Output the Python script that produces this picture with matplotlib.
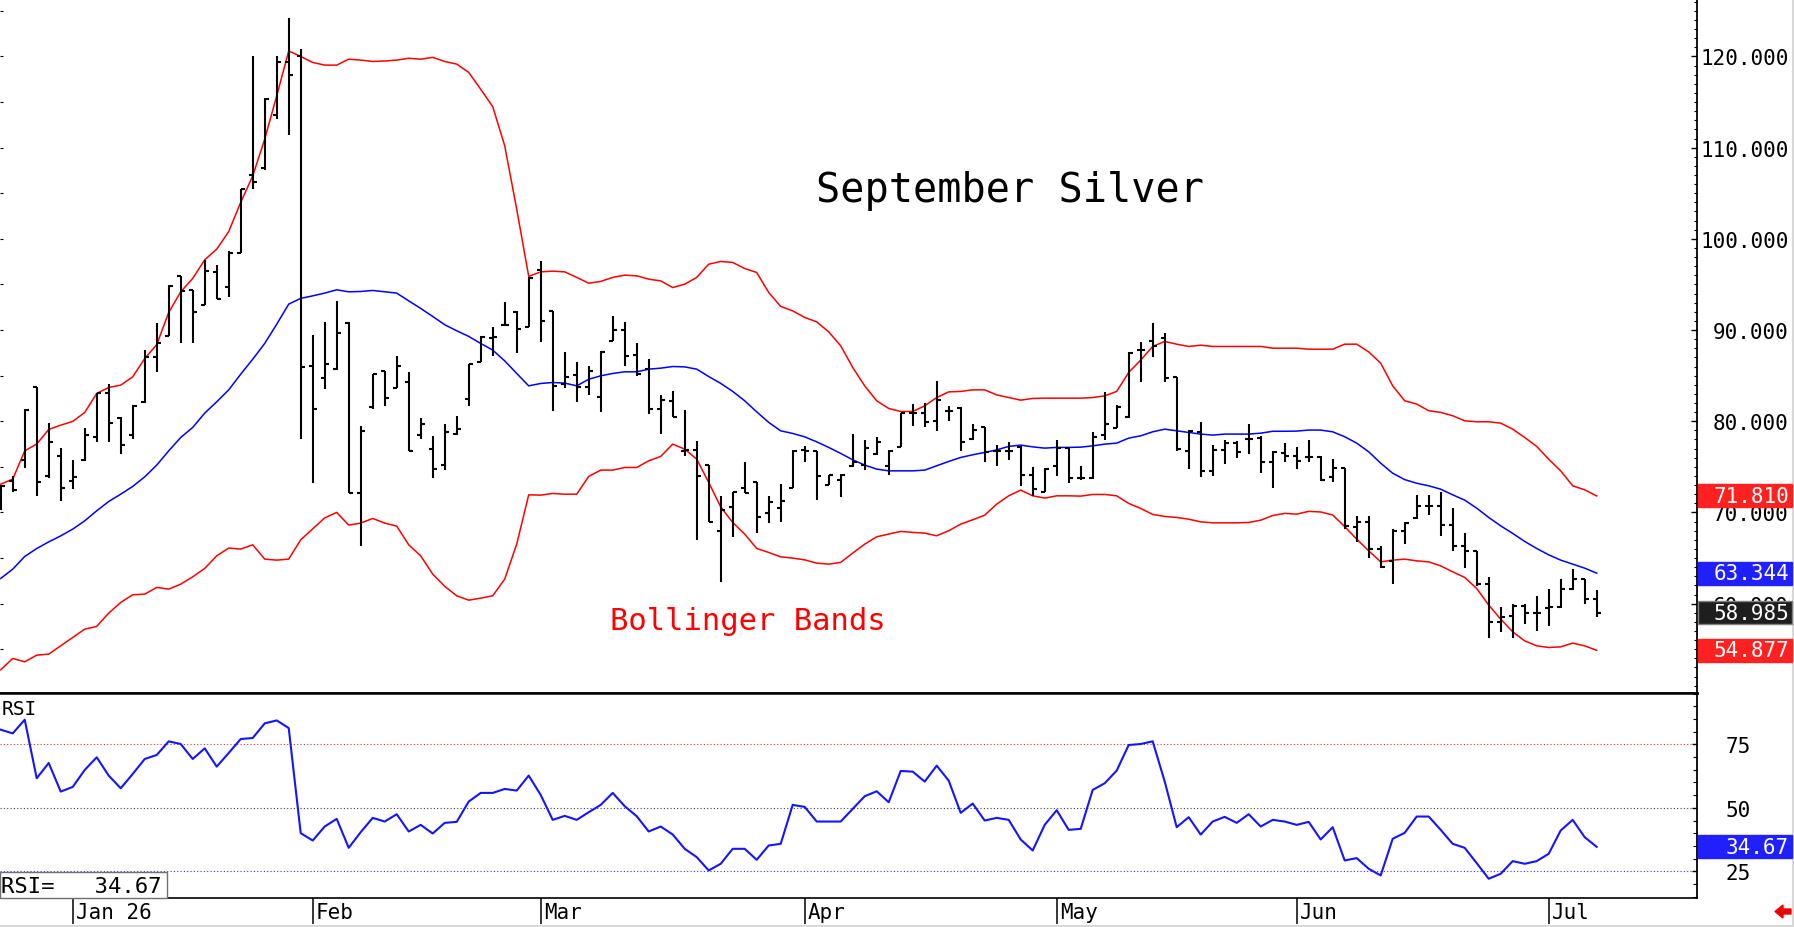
import matplotlib
matplotlib.use('Agg')
import matplotlib.pyplot as plt
import numpy as np
from matplotlib.patches import Rectangle, FancyArrow
from matplotlib.lines import Line2D
from matplotlib import transforms as mtrans

# ---------------- data (bar index 0 = late Dec, Jan 2 = index 6) ----------------
opens = [71.0, 73.5, 75.8, 83.8, 74.0, 76.2, 73.4, 75.7, 78.3, 83.1,
         80.4, 78.5, 82.1, 87.0, 89.4, 95.9, 94.4, 92.8, 96.4, 94.7,
         98.5, 107.0, 107.8, 113.6, 119.4, 120.1, 86.08, 84.76, 85.7, 90.76,
         72.08, 81.55, 85.46, 83.66, 84.32, 78.48, 77.0, 75.19, 78.59, 82.42,
         86.5, 89.1, 90.6, 92.0, 90.35, 96.6, 92.04, 84.07, 85.05, 83.7,
         82.67, 88.75, 89.99, 87.25, 85.71, 81.33, 82.24, 76.75, 76.83, 75.19,
         67.98, 70.61, 72.63, 73.29, 69.89, 70.47, 72.66, 76.9, 76.75, 72.99,
         73.54, 75.04, 75.19, 76.39, 75.11, 77.19, 80.86, 80.86, 80.04, 81.07,
         81.44, 78.03, 79.32, 76.75, 76.75, 77.19, 74.12, 72.26, 75.04, 77.02,
         73.73, 73.73, 78.51, 79.24, 80.42, 87.8, 88.8, 89.1, 84.8, 76.75,
         78.77, 74.56, 76.86, 77.6, 78.03, 78.11, 75.48, 76.47, 76.14, 76.03,
         76.03, 73.84, 74.82, 68.42, 68.9, 65.97, 64.69, 67.98, 69.34, 70.72,
         70.72, 68.61, 66.34, 65.72, 62.14, 58.0, 58.66, 59.76, 58.93, 59.47,
         59.65, 61.59, 62.69, 60.49]
highs = [73.0, 74.0, 81.3, 83.8, 79.8, 77.1, 75.7, 79.3, 83.1, 84.1,
         80.5, 81.8, 87.8, 90.8, 94.9, 95.9, 94.4, 97.7, 97.15, 98.7,
         105.5, 120.0, 115.4, 120.0, 124.2, 120.8, 89.44, 90.83, 93.13, 90.83,
         79.46, 85.16, 85.53, 87.17, 85.35, 80.34, 78.4, 79.65, 80.53, 86.33,
         89.3, 90.28, 93.03, 92.04, 95.77, 97.52, 92.1, 87.54, 86.51, 86.07,
         87.65, 91.49, 90.83, 88.53, 86.8, 82.89, 83.33, 81.25, 77.78, 75.22,
         71.75, 72.26, 75.48, 73.29, 71.82, 73.1, 76.83, 77.3, 76.75, 74.12,
         74.2, 78.59, 77.93, 78.22, 76.83, 80.86, 81.88, 81.96, 84.37, 81.69,
         81.51, 79.68, 79.38, 77.38, 77.67, 77.3, 74.93, 74.82, 77.96, 77.05,
         75.11, 78.84, 83.22, 81.77, 87.54, 88.64, 90.72, 89.73, 84.87, 79.06,
         79.87, 77.38, 77.96, 77.85, 79.68, 78.33, 76.75, 77.57, 77.13, 77.93,
         76.14, 75.84, 74.86, 69.56, 69.63, 66.34, 68.17, 68.9, 71.93, 71.93,
         72.19, 70.44, 67.7, 65.79, 62.87, 59.58, 59.95, 59.95, 60.86, 61.59,
         62.69, 63.78, 62.69, 61.51]
lows = [70.3, 72.2, 74.9, 71.8, 73.8, 71.3, 72.6, 75.6, 77.7, 77.7,
        76.4, 78.0, 82.0, 85.4, 89.4, 88.6, 88.6, 92.8, 93.4, 93.6,
        98.5, 105.5, 107.6, 113.1, 111.4, 78.1, 73.2, 83.5, 85.6, 72.08,
        66.34, 81.33, 81.69, 83.6, 76.69, 78.03, 73.73, 74.67, 78.48, 81.69,
        86.45, 87.17, 90.53, 87.47, 90.28, 88.64, 81.07, 83.63, 82.06, 82.89,
        80.96, 88.75, 86.01, 84.98, 80.77, 78.59, 80.42, 76.14, 66.96, 68.9,
        62.32, 67.26, 72.08, 67.7, 68.79, 68.9, 72.66, 75.48, 71.35, 72.99,
        71.64, 74.93, 74.6, 76.28, 74.12, 77.13, 79.5, 79.32, 78.95, 79.98,
        76.75, 77.93, 75.48, 75.04, 75.73, 72.92, 71.82, 72.19, 74.0, 73.18,
        73.54, 73.65, 77.96, 79.21, 80.31, 84.25, 87.0, 84.25, 76.75, 74.75,
        73.91, 74.0, 75.3, 75.92, 76.39, 74.28, 72.63, 75.48, 74.75, 75.48,
        73.4, 73.35, 68.17, 66.77, 64.96, 63.86, 62.14, 66.52, 69.26, 69.7,
        67.43, 65.79, 63.86, 61.88, 56.18, 56.84, 56.18, 57.75, 57.02, 57.57,
        59.47, 61.51, 59.95, 58.48]
closes = [72.9, 72.5, 81.2, 73.3, 77.7, 72.7, 73.9, 78.5, 83.1, 79.8,
          77.4, 81.7, 87.0, 88.6, 94.85, 94.3, 92.0, 96.5, 93.4, 98.4,
          105.5, 106.25, 115.3, 119.4, 117.95, 85.96, 81.33, 86.33, 89.73, 72.08,
          78.9, 85.13, 82.53, 86.07, 76.69, 79.68, 74.75, 78.83, 79.13, 86.26,
          89.22, 89.19, 90.6, 90.1, 95.69, 91.0, 83.88, 84.8, 83.7, 85.53,
          87.57, 89.96, 87.17, 85.16, 81.33, 82.31, 80.48, 76.83, 74.0, 68.97,
          70.28, 72.19, 72.08, 69.45, 71.1, 71.27, 76.75, 76.75, 74.0, 74.06,
          74.12, 75.48, 77.05, 77.74, 76.75, 80.86, 80.86, 79.87, 82.35, 81.07,
          77.67, 79.02, 76.58, 76.75, 76.75, 74.12, 72.55, 74.75, 77.02, 73.73,
          73.73, 78.29, 79.68, 81.58, 87.47, 87.8, 88.2, 84.7, 76.94, 78.95,
          74.56, 76.86, 77.6, 76.64, 78.03, 75.48, 76.58, 76.2, 75.66, 76.03,
          73.54, 74.82, 68.53, 68.9, 65.97, 63.97, 67.98, 68.79, 70.72, 70.72,
          68.61, 66.34, 65.72, 62.14, 58.0, 58.49, 59.76, 58.93, 58.93, 59.65,
          61.59, 62.69, 60.49, 58.985]

upper = [73.1, 73.65, 76.75, 77.5, 79.1, 79.57, 79.98, 80.96, 83.05, 83.7,
         83.96, 84.87, 86.88, 88.4, 91.93, 94.19, 95.66, 97.7, 98.87, 100.8,
         104.0, 106.9, 110.93, 115.68, 120.6, 120.0, 119.34, 119.05, 119.05, 119.7,
         119.6, 119.45, 119.5, 119.6, 119.8, 119.7, 119.9, 119.45, 119.16, 118.25,
         116.4, 114.5, 110.2, 103.26, 95.88, 96.38, 96.46, 96.38, 95.77, 95.14,
         95.33, 95.77, 96.02, 95.94, 95.58, 95.39, 94.66, 95.03, 95.77, 97.22,
         97.52, 97.41, 96.75, 96.31, 94.12, 92.59, 92.1, 91.38, 90.9, 89.8,
         88.27, 85.9, 83.88, 82.24, 81.4, 81.07, 81.07, 81.69, 82.6, 83.22,
         83.27, 83.44, 83.44, 82.89, 82.6, 82.31, 82.5, 82.53, 82.53, 82.53,
         82.53, 82.6, 82.78, 83.27, 85.35, 86.7, 88.2, 88.75, 88.45, 88.2,
         88.34, 88.2, 88.2, 88.2, 88.2, 88.2, 88.01, 88.01, 88.01, 87.9,
         87.9, 87.9, 88.45, 88.45, 87.6, 86.37, 83.88, 82.24, 81.88, 81.15,
         80.97, 80.6, 80.05, 79.94, 79.94, 79.79, 79.13, 78.22, 77.24, 75.84,
         74.56, 72.92, 72.48, 71.81]
middle = [62.76, 63.78, 65.17, 66.04, 66.77, 67.43, 68.17, 69.08, 70.18, 71.2,
          72.0, 72.85, 73.9, 75.19, 76.75, 78.22, 79.32, 80.89, 82.13, 83.44,
          85.16, 86.8, 88.53, 90.64, 92.84, 93.47, 93.75, 94.05, 94.41, 94.19,
          94.23, 94.34, 94.19, 94.05, 93.2, 92.37, 91.49, 90.58, 89.92, 89.3,
          88.53, 87.8, 86.62, 85.24, 83.88, 84.14, 84.25, 84.18, 83.88, 84.6,
          84.98, 85.24, 85.42, 85.42, 85.71, 85.82, 86.0, 85.96, 85.71, 84.9,
          84.15, 83.27, 82.24, 81.03, 79.87, 78.95, 78.66, 78.29, 77.74, 77.13,
          76.47, 75.77, 75.19, 74.75, 74.56, 74.56, 74.56, 74.64, 75.11, 75.59,
          76.03, 76.32, 76.58, 76.86, 77.24, 77.38, 77.19, 77.05, 77.13, 77.13,
          77.16, 77.3, 77.49, 77.6, 78.15, 78.4, 78.84, 79.13, 78.95, 78.77,
          78.59, 78.48, 78.59, 78.59, 78.59, 78.69, 78.9, 78.9, 78.92, 79.03,
          79.03, 78.84, 78.3, 77.6, 76.65, 75.4, 74.3, 73.6, 73.2, 72.92,
          72.55, 71.93, 71.35, 70.47, 69.45, 68.53, 67.7, 66.82, 66.05, 65.35,
          64.77, 64.33, 63.89, 63.344]
lower = [52.74, 53.99, 53.62, 54.35, 54.46, 55.37, 56.29, 57.2, 57.5, 58.96,
         60.13, 60.97, 61.04, 61.78, 61.59, 62.14, 62.94, 63.86, 65.24, 66.09,
         65.98, 66.45, 64.88, 64.77, 64.88, 67.0, 68.2, 69.4, 70.0, 68.61,
         68.83, 69.34, 68.83, 68.5, 66.45, 65.24, 63.23, 61.9, 60.86, 60.38,
         60.6, 60.86, 62.69, 66.52, 71.93, 71.9, 72.08, 72.0, 72.0, 73.95,
         74.64, 74.64, 74.93, 74.93, 75.66, 76.14, 77.49, 76.94, 75.84, 73.29,
         70.6, 68.9, 67.62, 66.05, 65.61, 65.13, 64.99, 64.8, 64.44, 64.33,
         64.52, 65.54, 66.52, 67.33, 67.62, 67.92, 67.81, 67.73, 67.44, 67.99,
         68.72, 69.19, 69.7, 70.91, 71.82, 72.45, 71.82, 71.57, 71.82, 71.82,
         71.79, 71.97, 71.97, 71.82, 70.99, 70.44, 69.78, 69.56, 69.45, 69.26,
         68.97, 68.86, 68.86, 68.86, 68.9, 69.15, 69.66, 69.9, 69.81, 70.12,
         70.05, 69.72, 68.45, 67.07, 65.79, 64.58, 64.77, 64.88, 64.69, 64.58,
         64.14, 63.49, 62.87, 61.66, 59.84, 58.3, 56.91, 55.92, 55.37, 55.19,
         55.26, 55.67, 55.37, 54.877]
rsi = [80.76, 79.3, 84.7, 61.65, 67.67, 56.41, 58.25, 64.92, 69.9, 62.7,
       57.72, 63.35, 69.24, 70.81, 76.18, 75.13, 69.24, 73.43, 66.23, 71.6,
       77.1, 77.49, 83.25, 84.42, 81.41, 40.05, 37.17, 42.67, 45.68, 34.29,
       40.45, 46.07, 44.63, 47.51, 40.71, 43.32, 39.92, 44.11, 44.5, 52.49,
       55.89, 55.89, 57.46, 56.81, 62.7, 55.1, 45.29, 46.86, 45.29, 48.3,
       51.18, 55.89, 50.65, 46.73, 40.71, 42.67, 39.53, 33.9, 30.63, 25.39,
       28.01, 33.9, 33.9, 29.58, 35.21, 35.86, 51.18, 50.39, 44.63, 44.63,
       44.63, 49.61, 54.58, 56.54, 52.23, 64.53, 64.27, 60.34, 66.62, 60.73,
       48.04, 51.7, 45.03, 46.07, 45.29, 37.57, 33.25, 43.32, 49.08, 41.36,
       41.75, 57.07, 59.69, 64.66, 74.74, 75.13, 76.18, 60.4, 42.41, 46.34,
       39.5, 44.63, 46.47, 44.11, 47.51, 42.67, 45.29, 44.63, 43.32, 44.5,
       37.57, 42.41, 29.32, 30.24, 26.05, 23.43, 37.83, 40.18, 46.6, 46.6,
       41.36, 35.86, 34.29, 28.27, 22.12, 24.08, 29.06, 28.01, 29.06, 31.94,
       41.1, 45.29, 38.48, 34.67]

month_labels = ['Jan 26', 'Feb', 'Mar', 'Apr', 'May', 'Jun', 'Jul']
month_index = [6, 26, 45, 67, 88, 108, 129]
price_ticks = [60, 70, 80, 90, 100, 110, 120]
rsi_levels = [75, 50, 25]

# ---------------- figure ----------------
FONT = 'DejaVu Sans Mono'
plt.rcParams['font.family'] = [FONT, 'DejaVu Sans']
W, H = 1794, 928
fig = plt.figure(figsize=(W / 100, H / 100), dpi=100)
fig.patch.set_facecolor('white')

def fx(px):
    return px / W

def fy(py):
    return 1 - py / H

AX_R = 1697
ax = fig.add_axes([0, fy(694), fx(AX_R), 694 / H])
ax2 = fig.add_axes([0, fy(899), fx(AX_R), 205 / H], sharex=ax)

x = np.arange(len(closes))
ax.plot(x, upper, color='#ff0000', lw=1.1, zorder=2)
ax.plot(x, lower, color='#ff0000', lw=1.1, zorder=2)
ax.plot(x, middle, color='#0000ff', lw=1.1, zorder=2)
ax.vlines(x, lows, highs, color='black', lw=1.5, zorder=3)
ax.hlines(opens, x - 0.34, x, color='black', lw=1.5, zorder=3)
ax.hlines(closes, x, x + 0.34, color='black', lw=1.5, zorder=3)

ax.set_xlim(-0.06, 141.36)
ax.set_ylim(50.2, 126.3)

for s in ['left', 'top']:
    ax.spines[s].set_visible(False)
ax.spines['right'].set_linewidth(1.3)
ax.spines['bottom'].set_linewidth(1.8)
ax.tick_params(axis='x', which='both', bottom=False, labelbottom=False)
ax.yaxis.tick_right()
ax.set_yticks(price_ticks)
ax.set_yticklabels([f'{v:.3f}' for v in price_ticks])
ax.yaxis.set_minor_locator(matplotlib.ticker.MultipleLocator(1))
ax.tick_params(axis='y', which='major', direction='in', length=4.5, width=1,
               labelsize=15, pad=66, right=True, left=False)
ax.tick_params(axis='y', which='minor', direction='in', length=2.2, width=0.8,
               right=True, left=False)
for lab in ax.get_yticklabels():
    lab.set_horizontalalignment('right')

sec = ax.secondary_yaxis('left')
sec.set_yticks(np.arange(55, 126, 5))
sec.tick_params(direction='in', length=2.2, width=0.8, labelleft=False)
sec.spines['left'].set_visible(False)

# RSI panel
ax2.plot(x, rsi, color='#1414ff', lw=1.5, zorder=3)
lvl_colors = ['#ff3030', '#404040', '#3030ff']
for lv, c in zip(rsi_levels, lvl_colors):
    ax2.axhline(lv, color=c, lw=0.8, ls=(0, (1, 2)), zorder=1)
ax2.set_ylim(14.55, 95.2)
ax2.spines['left'].set_visible(False)
ax2.spines['top'].set_linewidth(1.8)
ax2.spines['right'].set_linewidth(1.3)
ax2.spines['bottom'].set_linewidth(1.2)
ax2.yaxis.tick_right()
ax2.set_yticks(rsi_levels)
ax2.set_yticklabels([str(v) for v in rsi_levels])
ax2.yaxis.set_minor_locator(matplotlib.ticker.MultipleLocator(5))
ax2.tick_params(axis='y', which='major', direction='in', length=3.5, width=1,
                labelsize=15, pad=39, right=True, left=False)
ax2.tick_params(axis='y', which='minor', direction='in', length=3.0, width=0.8,
                right=True, left=False)
for lab in ax2.get_yticklabels():
    lab.set_horizontalalignment('right')

ax2.set_xticks(month_index)
ax2.set_xticklabels([''] * len(month_index))
ax2.tick_params(axis='x', which='major', direction='out', length=19, width=1.1,
                color='black')
ax2.tick_params(axis='x', which='minor', bottom=False)
trans = mtrans.blended_transform_factory(ax2.transData, ax2.transAxes)
trans_off = mtrans.offset_copy(trans, fig=fig, x=3, y=0, units='dots')
for mi, ml in zip(month_index, month_labels):
    ax2.text(mi, -20 / 205, ml, transform=trans_off, fontsize=15,
             ha='left', va='baseline', color='black', clip_on=False)

# ---------------- annotations ----------------
fig.text(fx(816), fy(202), 'September Silver', fontsize=29, ha='left',
         va='baseline', color='black')
fig.text(fx(610), fy(630), 'Bollinger Bands', fontsize=22, ha='left',
         va='baseline', color='#ff0000')
fig.text(fx(2), fy(715), 'RSI', fontsize=14, ha='left', va='baseline',
         color='black')

fig.add_artist(Rectangle((0, fy(899)), fx(167), (899 - 872.5) / H,
                         transform=fig.transFigure, facecolor='white',
                         edgecolor='#707070', lw=1.0, zorder=4))
fig.text(fx(1), fy(893.5), f'RSI=   {rsi[-1]:.2f}', fontsize=16, ha='left',
         va='baseline', color='black', zorder=5)

fig.canvas.draw()

def box_label(axis, val, txt, face, edge=None):
    ydisp = axis.transData.transform((0, val))[1]
    ypx = H - ydisp
    h = 23
    fig.add_artist(Rectangle((fx(1698), fy(ypx + h / 2)), fx(1792) - fx(1698), h / H,
                             transform=fig.transFigure, facecolor=face,
                             edgecolor=edge if edge else face, lw=1.0, zorder=4))
    fig.text(fx(1789), fy(ypx), txt, fontsize=15, ha='right', va='center',
             color='white', zorder=5)

box_label(ax, upper[-1], f'{upper[-1]:.3f}', '#ff2020')
box_label(ax, middle[-1], f'{middle[-1]:.3f}', '#2020ff')
box_label(ax, closes[-1], f'{closes[-1]:.3f}', '#1e1e1e', '#808080')
box_label(ax, lower[-1], f'{lower[-1]:.3f}', '#ff2020')
box_label(ax2, rsi[-1], f'{rsi[-1]:.2f}', '#2020ff')

# small red arrow bottom right
fig.add_artist(FancyArrow(1791, 15.5, -16, 0, width=5, head_width=13,
                          head_length=8, length_includes_head=True,
                          color='#ee0000', transform=mtrans.IdentityTransform()))
# light frame right / bottom
fig.add_artist(Line2D([0, 1], [fy(927), fy(927)], transform=fig.transFigure,
                      color='#d8d8d8', lw=1.5))
fig.add_artist(Line2D([fx(1793), fx(1793)], [0, 1], transform=fig.transFigure,
                      color='#d8d8d8', lw=1.5))

fig.savefig('out.png', dpi=100, facecolor='white')
